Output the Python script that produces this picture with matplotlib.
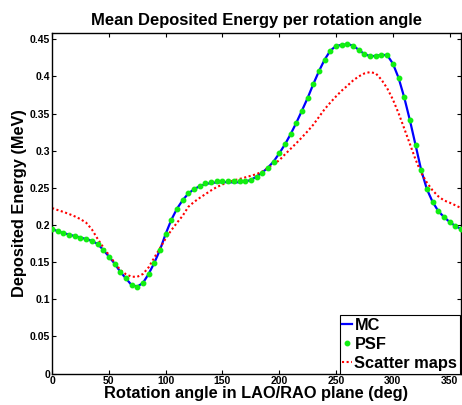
import matplotlib
matplotlib.use("Agg")
import matplotlib.pyplot as plt
import numpy as np

angles = list(range(0, 361, 5))

mc = [0.1946, 0.1915, 0.1890, 0.1870, 0.1850, 0.1830, 0.1810, 0.1785, 0.1745, 0.1665,
      0.1575, 0.1480, 0.1370, 0.1280, 0.1190, 0.1170, 0.1220, 0.1340, 0.1490, 0.1665,
      0.1880, 0.2070, 0.2220, 0.2334, 0.2424, 0.2482, 0.2522, 0.2550, 0.2565, 0.2572,
      0.2575, 0.2576, 0.2572, 0.2575, 0.2585, 0.2605, 0.2652, 0.2705, 0.2772, 0.2853,
      0.2964, 0.3084, 0.3222, 0.3375, 0.3540, 0.3710, 0.3897, 0.4072, 0.4227, 0.4347,
      0.4410, 0.4424, 0.4433, 0.4415, 0.4357, 0.4300, 0.4272, 0.4276, 0.4290, 0.4286,
      0.4173, 0.3982, 0.3718, 0.3410, 0.3075, 0.2735, 0.2480, 0.2310, 0.2187, 0.2107,
      0.2040, 0.1986, 0.1946]

psf = [0.1946, 0.1915, 0.1890, 0.1870, 0.1850, 0.1830, 0.1810, 0.1785, 0.1745, 0.1665,
       0.1575, 0.1480, 0.1370, 0.1280, 0.1190, 0.1170, 0.1220, 0.1340, 0.1490, 0.1665,
       0.1880, 0.2070, 0.2220, 0.2334, 0.2424, 0.2482, 0.2526, 0.2558, 0.2575, 0.2585,
       0.2589, 0.2593, 0.2585, 0.2585, 0.2593, 0.2607, 0.2652, 0.2705, 0.2772, 0.2853,
       0.2964, 0.3084, 0.3222, 0.3375, 0.3540, 0.3710, 0.3897, 0.4072, 0.4227, 0.4347,
       0.4410, 0.4424, 0.4433, 0.4415, 0.4357, 0.4300, 0.4272, 0.4276, 0.4290, 0.4286,
       0.4173, 0.3982, 0.3718, 0.3410, 0.3075, 0.2735, 0.2480, 0.2310, 0.2187, 0.2107,
       0.2040, 0.1986, 0.1946]

scatter = [0.2227, 0.2200, 0.2175, 0.2147, 0.2115, 0.2078, 0.2030, 0.1940, 0.1815, 0.1700,
           0.1595, 0.1494, 0.1394, 0.1336, 0.1303, 0.1302, 0.1340, 0.1430, 0.1560, 0.1688,
           0.1818, 0.1930, 0.2030, 0.2125, 0.2245, 0.2310, 0.2365, 0.2415, 0.2465, 0.2510,
           0.2545, 0.2578, 0.2600, 0.2619, 0.2640, 0.2662, 0.2684, 0.2718, 0.2765, 0.2820,
           0.2870, 0.2950, 0.3025, 0.3100, 0.3180, 0.3262, 0.3350, 0.3455, 0.3560, 0.3648,
           0.3731, 0.3808, 0.3875, 0.3945, 0.4000, 0.4040, 0.4058, 0.4040, 0.3955, 0.3840,
           0.3690, 0.3505, 0.3300, 0.3090, 0.2880, 0.2700, 0.2570, 0.2465, 0.2385, 0.2330,
           0.2300, 0.2265, 0.2227]

xticks = [0, 50, 100, 150, 200, 250, 300, 350]
yticks = [0, 0.05, 0.1, 0.15, 0.2, 0.25, 0.3, 0.35, 0.4, 0.45]
ytick_labels = ["0", "0.05", "0.1", "0.15", "0.2", "0.25", "0.3", "0.35", "0.4", "0.45"]

plt.rcParams['font.family'] = ['Liberation Sans', 'DejaVu Sans']
plt.rcParams['font.weight'] = 'bold'

fig = plt.figure(figsize=(4.62, 4.05), dpi=100)
ax = fig.add_axes([52.1 / 462, 1 - 373.5 / 405, (461.0 - 52.1) / 462, (373.5 - 33.3) / 405])

ax.plot(angles, mc, color='#0000ff', lw=1.6, label='MC', zorder=2)
ax.plot(angles, psf, linestyle='none', marker='o', ms=3.2, mfc='#11ee11', mec='#11ee11',
        label='PSF', zorder=3)
ax.plot(angles, scatter, color='#ff0000', lw=1.5, linestyle=(0, (1, 1.2)), label='Scatter maps',
        zorder=2)

ax.set_xlim(0, 360)
ax.set_ylim(0, 0.458)
ax.set_xticks(xticks)
ax.set_xticklabels([str(t) for t in xticks])
ax.set_yticks(yticks)
ax.set_yticklabels(ytick_labels)
ax.tick_params(direction='in', length=3, width=0.8, labelsize=7.5, pad=1.5,
               top=True, right=True)
for lab in ax.get_xticklabels() + ax.get_yticklabels():
    lab.set_fontweight('bold')
for s in ax.spines.values():
    s.set_linewidth(1.0)

ax.set_title('Mean Deposited Energy per rotation angle', fontsize=11.9, fontweight='bold', pad=6)
ax.set_xlabel('Rotation angle in LAO/RAO plane (deg)', fontsize=11.8, fontweight='bold', labelpad=0)
ax.set_ylabel('Deposited Energy (MeV)', fontsize=11.8, fontweight='bold', labelpad=2)

leg = ax.legend(loc='lower right', bbox_to_anchor=(0.997, 0.0), fancybox=False,
                framealpha=1, edgecolor='black', fontsize=11.8, handlelength=0.6,
                handletextpad=0.15, borderpad=0.15, labelspacing=0.25, borderaxespad=0)
leg.get_frame().set_linewidth(0.8)
for t in leg.get_texts():
    t.set_fontweight('bold')

fig.savefig('out.png', dpi=100)
